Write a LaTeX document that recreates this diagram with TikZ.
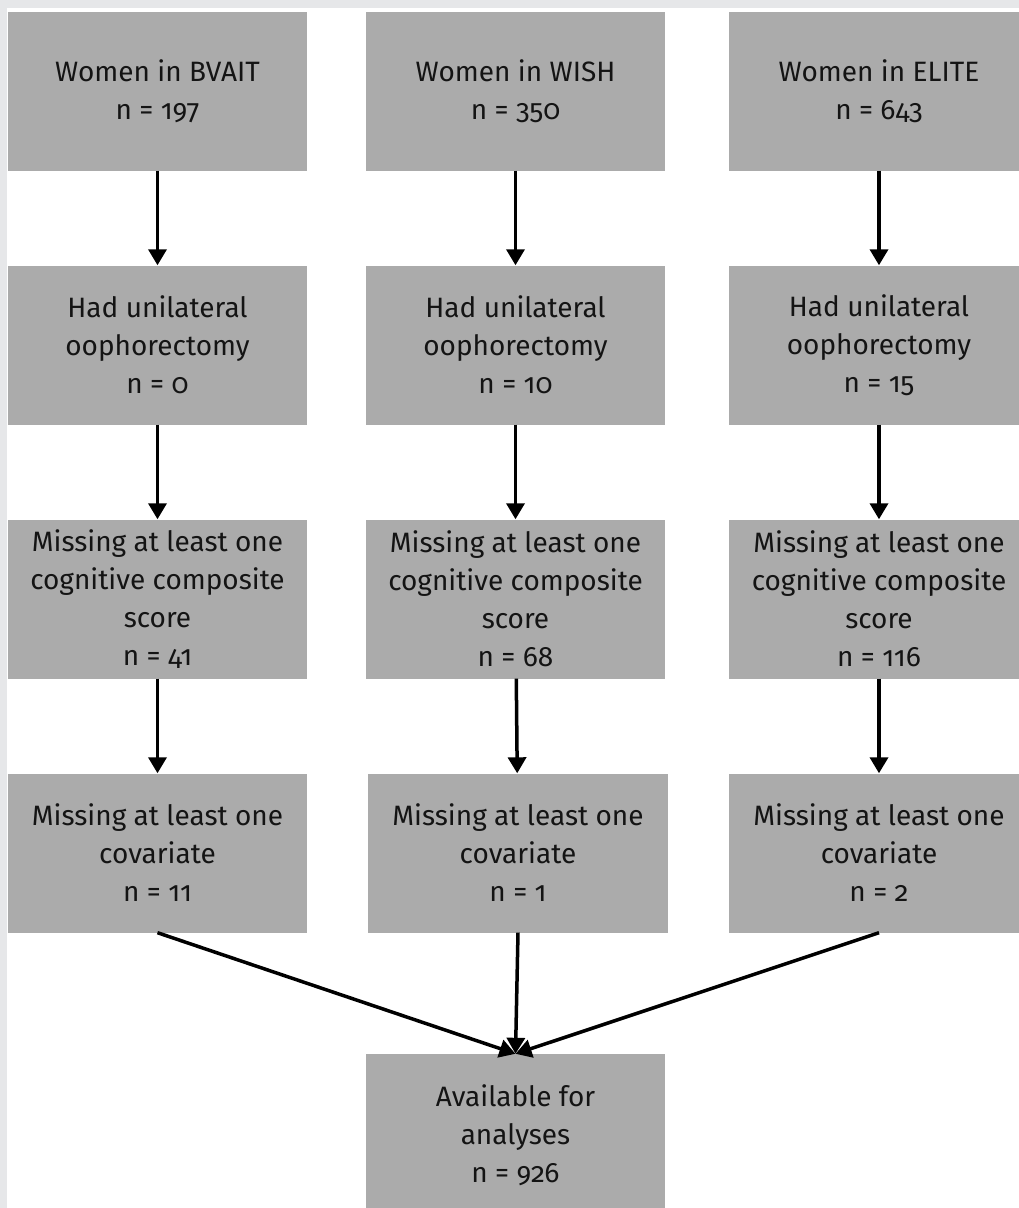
\documentclass[tikz,border=0pt]{standalone}
\usepackage{fontspec}
\setmainfont{Fira Sans}[Numbers=OldStyle]
\usetikzlibrary{arrows.meta}
\definecolor{framegray}{HTML}{E6E7E9}
\definecolor{boxgray}{HTML}{ABABAB}
\definecolor{txt}{HTML}{141414}
\tikzset{
  box/.style={fill=boxgray, draw=none, minimum width=299pt, minimum height=159pt,
    align=center, text=txt, inner sep=0pt, font=\fontsize{28}{38}\selectfont},
  arr/.style={line width=3.5pt, draw=black, -{Triangle[length=16pt,width=18pt]}}
}
\begin{document}
\begin{tikzpicture}[x=1pt,y=-1pt]
\useasboundingbox (0,0) rectangle (1019,1208);
\clip (0,0) rectangle (1019,1208);
\fill[framegray] (0,0) rectangle (1019,1208);
\fill[white] (7,8) rectangle (1019,1208);
% row 1
\node[box] (a1) at (157.5,91) {Women in BVAIT\\n = 197};
\node[box] (a2) at (515.5,91) {Women in WISH\\n = 350};
\node[box, minimum width=300pt] (a3) at (879,91) {Women in ELITE\\n = 643};
% row 2
\node[box] (b1) at (157.5,345) {Had unilateral\\oophorectomy\\n = 0};
\node[box] (b2) at (515.5,345) {Had unilateral\\oophorectomy\\n = 10};
\node[box, minimum width=300pt] (b3) at (879,345) {Had unilateral\\oophorectomy\\n = 15};
% row 3
\node[box] (c1) at (157.5,599) {Missing at least one\\cognitive composite\\score\\n = 41};
\node[box] (c2) at (515.5,599) {Missing at least one\\cognitive composite\\score\\n = 68};
\node[box, minimum width=300pt] (c3) at (879,599) {Missing at least one\\cognitive composite\\score\\n = 116};
% row 4
\node[box] (d1) at (157.5,853) {Missing at least one\\covariate\\n = 11};
\node[box, minimum width=300pt] (d2) at (518,853) {Missing at least one\\covariate\\n = 1};
\node[box, minimum width=300pt] (d3) at (879,853) {Missing at least one\\covariate\\n = 2};
% bottom
\node[box, minimum height=162pt] (e) at (515.5,1135) {Available for\\analyses\\n = 926};
% arrows
\foreach \col in {1,2,3}{
  \draw[arr] (a\col) -- (b\col);
  \draw[arr] (b\col) -- (c\col);
  \draw[arr] (c\col) -- (d\col);
}
\draw[arr] (d1.south) -- (e.north);
\draw[arr] (d2.south) -- (e.north);
\draw[arr] (d3.south) -- (e.north);
\end{tikzpicture}
\end{document}
